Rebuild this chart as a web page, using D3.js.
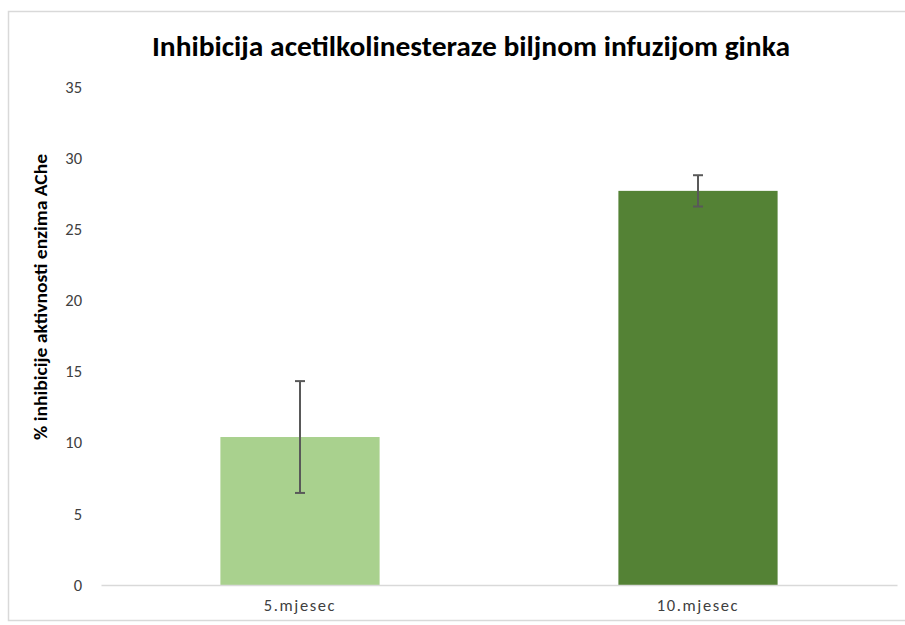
<!DOCTYPE html>
<html>
<head>
<meta charset="utf-8">
<script src="https://cdn.jsdelivr.net/npm/d3@7"></script>
<style>
  body { margin: 0; background: #fff; }
  text { font-family: Carlito, "Open Sans", "DejaVu Sans Condensed", sans-serif; }
</style>
</head>
<body>
<script>
// chart data
var categories = ["5.mjesec", "10.mjesec"];
var values     = [10.4, 27.7];
var errors     = [3.93, 1.1];
var colors     = ["#a9d18e", "#548235"];
var yTicks     = [0, 5, 10, 15, 20, 25, 30, 35];

var W = 905, H = 625;
var plotLeft = 101, plotRight = 897, plotTop = 87, plotBottom = 585;

var svg = d3.select("body").append("svg")
    .attr("width", W).attr("height", H);

// chart area border
svg.append("rect")
    .attr("x", 8.5).attr("y", 11.5)
    .attr("width", 905).attr("height", 609)
    .style("fill", "#fff").style("stroke", "#d9d9d9").style("stroke-width", 1.5);

var x = d3.scaleBand().domain(categories).range([plotLeft, plotRight]);
var y = d3.scaleLinear().domain([0, 35]).range([plotBottom, plotTop]);

// y tick labels (no axis line)
var yAxis = svg.append("g")
    .attr("transform", "translate(" + (plotLeft - 15) + ",0)")
    .call(d3.axisLeft(y).tickValues(yTicks).tickSize(0).tickPadding(4));
yAxis.select(".domain").remove();
yAxis.selectAll("text").style("font-size", "16.5px").style("fill", "#404040")
    .style("font-family", "Carlito, 'Open Sans', sans-serif");

// bars
var bw = x.bandwidth() * 0.4;
svg.selectAll("rect.bar").data(values).enter().append("rect")
    .attr("class", "bar")
    .attr("x", function (d, i) { return x(categories[i]) + x.bandwidth() / 2 - bw / 2; })
    .attr("y", function (d) { return y(d); })
    .attr("width", bw)
    .attr("height", function (d) { return y(0) - y(d); })
    .style("fill", function (d, i) { return colors[i]; });

// x axis line + labels
var xAxis = svg.append("g")
    .attr("transform", "translate(0," + plotBottom + ")")
    .call(d3.axisBottom(x).tickSize(0).tickPadding(14));
xAxis.select(".domain").style("stroke", "#d9d9d9").style("stroke-width", 1.5);
xAxis.selectAll("text").style("font-size", "16.5px").style("fill", "#404040")
    .style("letter-spacing", "1.6px")
    .style("font-family", "Carlito, 'Open Sans', sans-serif");

// error bars
var eb = svg.selectAll("g.err").data(values).enter().append("g").attr("class", "err")
    .style("stroke", "#595959").style("stroke-width", 2);
eb.append("line")
    .attr("x1", function (d, i) { return x(categories[i]) + x.bandwidth() / 2; })
    .attr("x2", function (d, i) { return x(categories[i]) + x.bandwidth() / 2; })
    .attr("y1", function (d, i) { return y(d + errors[i]); })
    .attr("y2", function (d, i) { return y(d - errors[i]); });
[1, -1].forEach(function (s) {
  eb.append("line")
    .attr("x1", function (d, i) { return x(categories[i]) + x.bandwidth() / 2 - 5; })
    .attr("x2", function (d, i) { return x(categories[i]) + x.bandwidth() / 2 + 5; })
    .attr("y1", function (d, i) { return y(d + s * errors[i]); })
    .attr("y2", function (d, i) { return y(d + s * errors[i]); });
});

// title
svg.append("text")
    .attr("x", 471).attr("y", 56)
    .attr("text-anchor", "middle")
    .attr("textLength", 638).attr("lengthAdjust", "spacingAndGlyphs")
    .style("font-size", "28px").style("font-weight", "bold").style("fill", "#000")
    .text("Inhibicija acetilkolinesteraze biljnom infuzijom ginka");

// y axis title
svg.append("text")
    .attr("transform", "translate(47,297) rotate(-90)")
    .attr("text-anchor", "middle")
    .attr("textLength", 286).attr("lengthAdjust", "spacingAndGlyphs")
    .style("font-size", "18px").style("font-weight", "bold").style("fill", "#000")
    .text("% inhibicije  aktivnosti enzima AChe");
</script>
</body>
</html>
